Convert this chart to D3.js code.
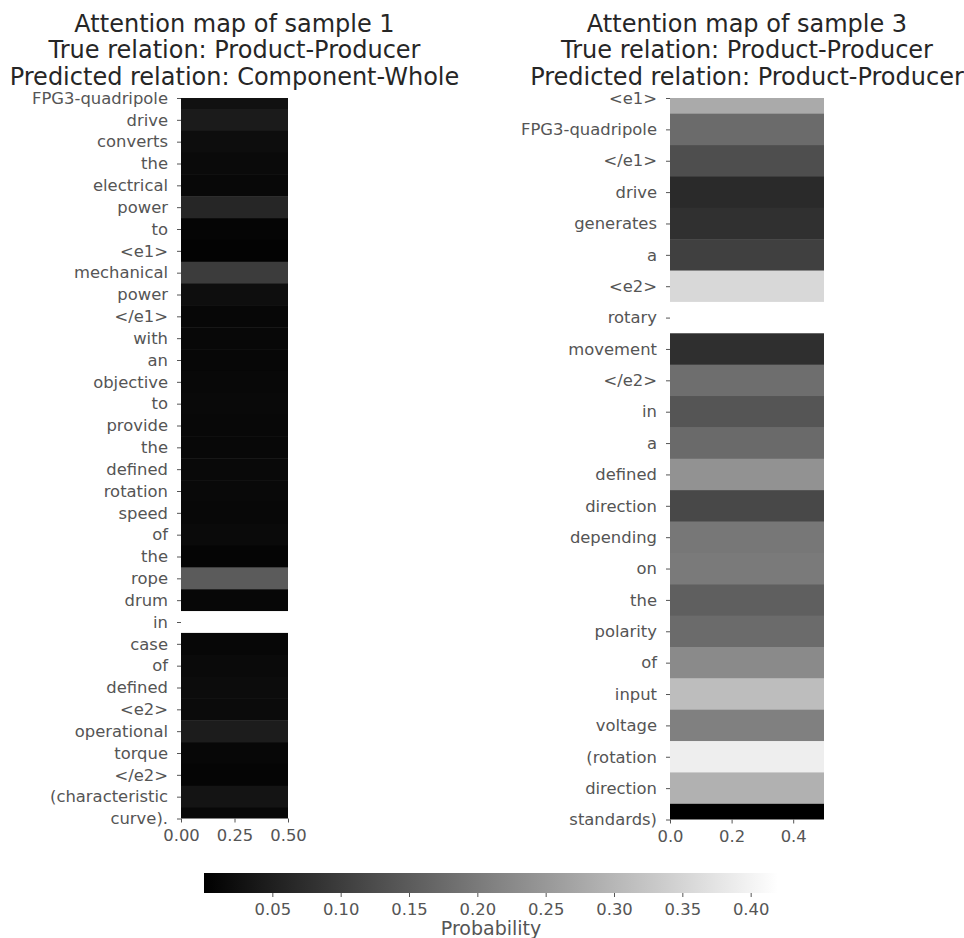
<!DOCTYPE html>
<html>
<head>
<meta charset="utf-8">
<script src="https://cdn.jsdelivr.net/npm/d3@7"></script>
<style>
  html, body { margin: 0; padding: 0; background: #fff; }
  svg { display: block; font-family: "DejaVu Sans", sans-serif; }
  .tick text { fill: #555; }
  .tick line { stroke: #555; }
</style>
</head>
<body>
<svg id="chart" width="964" height="938"></svg>
<script>
// Tokens and attention probabilities, sample 1
const tokens1 = ["FPG3-quadripole", "drive", "converts", "the", "electrical", "power", "to", "<e1>",
  "mechanical", "power", "</e1>", "with", "an", "objective", "to", "provide", "the", "defined",
  "rotation", "speed", "of", "the", "rope", "drum", "in", "case", "of", "defined", "<e2>",
  "operational", "torque", "</e2>", "(characteristic", "curve)."];
const probs1 = [0.028, 0.044, 0.021, 0.016, 0.013, 0.063, 0.008, 0.005,
  0.099, 0.023, 0.012, 0.013, 0.012, 0.013, 0.015, 0.013, 0.013, 0.015,
  0.015, 0.013, 0.016, 0.008, 0.150, 0.012, 0.420, 0.012, 0.016, 0.020, 0.018,
  0.046, 0.012, 0.008, 0.033, 0.013];

// Tokens and attention probabilities, sample 3
const tokens3 = ["<e1>", "FPG3-quadripole", "</e1>", "drive", "generates", "a", "<e2>", "rotary",
  "movement", "</e2>", "in", "a", "defined", "direction", "depending", "on", "the", "polarity",
  "of", "input", "voltage", "(rotation", "direction", "standards)"];
const probs3 = [0.280, 0.176, 0.128, 0.069, 0.079, 0.105, 0.356, 0.420,
  0.077, 0.181, 0.140, 0.175, 0.240, 0.119, 0.196, 0.201, 0.156, 0.176,
  0.227, 0.311, 0.211, 0.392, 0.292, 0.000];

const titles1 = ["Attention map of sample 1", "True relation: Product-Producer", "Predicted relation: Component-Whole"];
const titles3 = ["Attention map of sample 3", "True relation: Product-Producer", "Predicted relation: Product-Producer"];

const xTicks1 = [0, 0.25, 0.5];
const xTicks3 = [0, 0.2, 0.4];
const cbarTicks = [0.05, 0.10, 0.15, 0.20, 0.25, 0.30, 0.35, 0.40];
const vmin = 0, vmax = 0.42;

const TICK_FONT = 16.4;
const svg = d3.select("#chart");
const color = d3.scaleLinear().domain([vmin, vmax]).range(["#000", "#fff"]).clamp(true);

function styleAxis(sel) {
  sel.attr("font-size", TICK_FONT).attr("font-family", "DejaVu Sans");
  sel.select(".domain").remove();
}

function panel(id, tokens, probs, titles, xTicks, xFmt, left, right, top, bottom) {
  const g = svg.append("g");
  const n = tokens.length;
  const x = d3.scaleLinear().domain([0, 0.5]).range([left, right]);
  const y = d3.scaleLinear().domain([0, n - 1]).range([top, bottom]);

  g.append("clipPath").attr("id", id)
    .append("rect").attr("x", left).attr("y", top)
    .attr("width", right - left).attr("height", bottom - top);

  g.append("g").attr("clip-path", `url(#${id})`)
    .selectAll("rect").data(probs).join("rect")
    .attr("x", x(0))
    .attr("width", x(0.5) - x(0))
    .attr("y", (d, i) => y(i - 0.5))
    .attr("height", (d, i) => y(i + 0.5) - y(i - 0.5) + 0.5)
    .attr("fill", d => color(d));

  g.append("g").attr("transform", `translate(${left},0)`)
    .call(d3.axisLeft(y).tickValues(d3.range(n)).tickFormat(i => tokens[i])
      .tickSize(4).tickPadding(9))
    .call(styleAxis);

  g.append("g").attr("transform", `translate(0,${bottom})`)
    .call(d3.axisBottom(x).tickValues(xTicks).tickFormat(d3.format(xFmt))
      .tickSize(4).tickPadding(7))
    .call(styleAxis);

  const cx = (left + right) / 2;
  g.append("text")
    .attr("text-anchor", "middle")
    .attr("font-size", 24).attr("fill", "#262626")
    .selectAll("tspan").data(titles).join("tspan")
    .attr("x", cx).attr("y", (d, i) => 32 + i * 26.3)
    .text(d => d);
}

panel("clip1", tokens1, probs1, titles1, xTicks1, ".2f", 181, 288, 98, 818.5);
panel("clip3", tokens3, probs3, titles3, xTicks3, ".1f", 670, 824, 98, 819.5);

// Shared colorbar
const cb = { left: 204, right: 778, top: 873, bottom: 893 };
const cbX = d3.scaleLinear().domain([vmin, vmax]).range([cb.left, cb.right]);
const grad = svg.append("defs").append("linearGradient").attr("id", "cbgrad");
grad.selectAll("stop").data(d3.range(0, 1.0001, 0.1)).join("stop")
  .attr("offset", d => d)
  .attr("stop-color", d => color(vmin + d * (vmax - vmin)));
svg.append("rect")
  .attr("x", cb.left).attr("y", cb.top)
  .attr("width", cb.right - cb.left).attr("height", cb.bottom - cb.top)
  .attr("fill", "url(#cbgrad)");
svg.append("g").attr("transform", `translate(0,${cb.bottom})`)
  .call(d3.axisBottom(cbX).tickValues(cbarTicks).tickFormat(d3.format(".2f"))
    .tickSize(4).tickPadding(6))
  .call(styleAxis);
svg.append("text")
  .attr("x", (cb.left + cb.right) / 2).attr("y", 935)
  .attr("text-anchor", "middle").attr("font-size", 19).attr("fill", "#555")
  .text("Probability");
</script>
</body>
</html>
